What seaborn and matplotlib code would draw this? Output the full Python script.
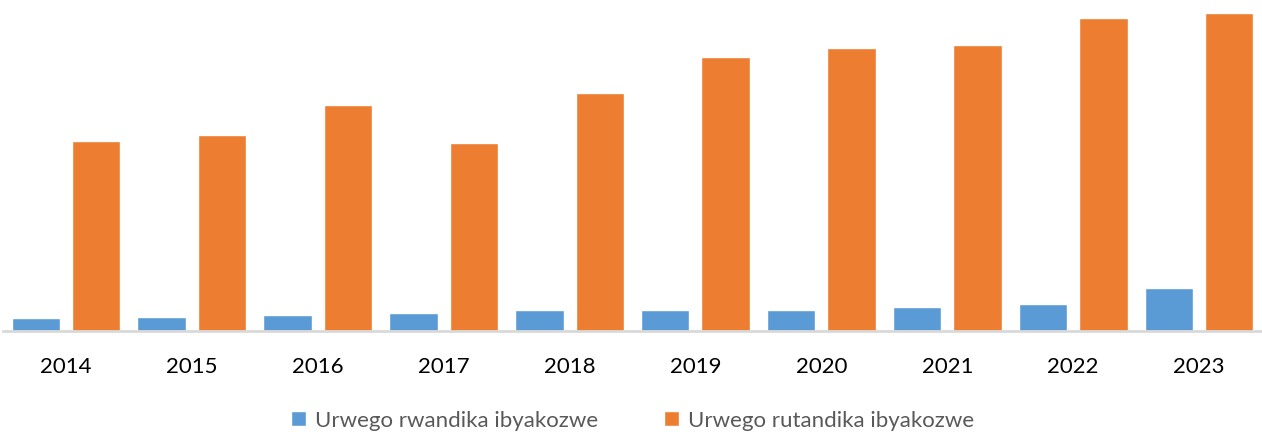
import numpy as np
import pandas as pd
import seaborn as sns
import matplotlib.pyplot as plt

years = ['2014', '2015', '2016', '2017', '2018', '2019', '2020', '2021', '2022', '2023']
rwandika = [13, 14, 16, 18, 21, 21, 21, 24, 27, 43]
rutandika = [190, 196, 226, 188, 238, 274, 283, 286, 313, 318]
series_names = ['Urwego rwandika ibyakozwe', 'Urwego rutandika ibyakozwe']
colors = ['#5b9bd5', '#ed7d31']

df = pd.DataFrame({
    'year': years * 2,
    'value': rwandika + rutandika,
    'series': [series_names[0]] * len(years) + [series_names[1]] * len(years),
})

sns.set_style('white')
plt.rcParams['font.family'] = ['Lato', 'DejaVu Sans']

fig = plt.figure(figsize=(12.62, 4.34), dpi=100)
ax = fig.add_axes([3 / 1262, 103 / 434, 1 - 3 / 1262, 331 / 434])

sns.barplot(data=df, x='year', y='value', hue='series', palette=colors,
            width=0.96, gap=0.2, ax=ax, saturation=1, legend=True)

ax.set_ylim(0, 331)
ax.set_xlim(-0.5, 9.5)
ax.set_yticks([])
ax.set_xlabel('')
ax.set_ylabel('')
for s in ['top', 'right', 'left']:
    ax.spines[s].set_visible(False)
ax.spines['bottom'].set_color('#d9d9d9')
ax.spines['bottom'].set_linewidth(2)
ax.tick_params(axis='x', length=0, pad=19, labelsize=16, labelcolor='#000000')

ax.legend(loc='upper center', bbox_to_anchor=(0.5, -0.18), ncol=2, frameon=False,
          fontsize=16, handlelength=0.65, handleheight=0.65, handletextpad=0.4,
          columnspacing=3.0, labelcolor='#595959')

fig.savefig('out.png', dpi=100)
